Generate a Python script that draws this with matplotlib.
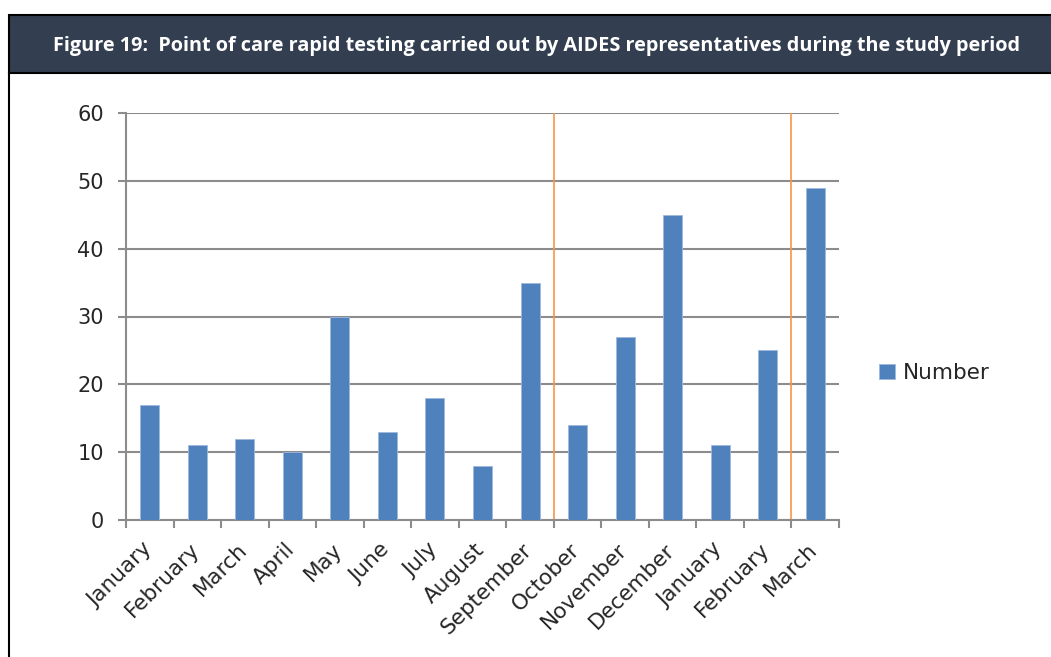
import matplotlib
matplotlib.use("Agg")
import matplotlib.pyplot as plt
from matplotlib.patches import Rectangle
from matplotlib.lines import Line2D
import numpy as np

# ---- data ----
months = ["January", "February", "March", "April", "May", "June", "July",
          "August", "September", "October", "November", "December",
          "January", "February", "March"]
counts = [17, 11, 12, 10, 30, 13, 18, 8, 35, 14, 27, 45, 11, 25, 49]
period_breaks = [9, 14]   # vertical markers between categories
series_name = "Number"
title = ("Figure 19:  Point of care rapid testing carried out by AIDES "
         "representatives during the study period")

# ---- style ----
BAR = "#4F81BD"
GRID = "#8C8C8C"
ORANGE = "#F79646"
HEADER = "#333F50"
TXT = "#262626"

W, H = 1051, 657
fig = plt.figure(figsize=(W / 100, H / 100), dpi=100)

def fx(px):
    return px / W

def fy(py):
    return 1 - py / H

# header bar and framing box
fig.patches.append(Rectangle((fx(9), fy(73)), 1.0, fy(15) - fy(73),
                             transform=fig.transFigure, facecolor=HEADER,
                             edgecolor="black", lw=1.5, zorder=0))
fig.lines.append(Line2D([fx(9), fx(9)], [fy(73), 0], transform=fig.transFigure,
                        color="black", lw=1.5))
fig.text(fx(537), fy(46), title, color="white", fontweight="bold",
         fontsize=14.3, family="Open Sans", ha="center", va="center")

# plot area
ax = fig.add_axes([fx(126), fy(520), fx(839) - fx(126), fy(113) - fy(520)])
x = np.arange(len(months))
bars = ax.bar(x, counts, width=0.4, color=BAR, edgecolor="#9DB9DC",
              linewidth=0.6, label=series_name, zorder=3)

ax.set_xlim(-0.5, len(months) - 0.5)
ax.set_ylim(0, 60)
ax.set_yticks(range(0, 61, 10))
ax.yaxis.grid(True, color=GRID, lw=1.5, zorder=0)

for b in period_breaks:
    ax.axvline(b - 0.5, color=ORANGE, lw=1.2, zorder=2)

for side in ["top", "right"]:
    ax.spines[side].set_visible(False)
for side in ["left", "bottom"]:
    ax.spines[side].set_color(GRID)
    ax.spines[side].set_linewidth(1.5)

ax.set_xticks(np.arange(len(months) + 1) - 0.5)
ax.set_xticklabels([])
ax.set_xticks(x - 0.17, minor=True)
ax.set_xticklabels(months, minor=True, rotation=45, ha="right", va="top",
                   rotation_mode="anchor", fontsize=15.5, color=TXT,
                   family="DejaVu Sans")
ax.tick_params(axis="x", which="major", length=6, width=1.5, color=GRID)
ax.tick_params(axis="x", which="minor", length=0, pad=14)
ax.tick_params(axis="y", length=6, width=1.5, color=GRID, pad=10,
               labelsize=15, labelcolor=TXT)

leg = ax.legend(loc="center left", bbox_to_anchor=(fx(879), fy(373)),
                bbox_transform=fig.transFigure, frameon=False,
                handlelength=0.75, handleheight=0.75, handletextpad=0.35,
                borderpad=0, borderaxespad=0,
                prop={"family": "DejaVu Sans", "size": 15.5})
for t in leg.get_texts():
    t.set_color(TXT)

fig.savefig("out.png", dpi=100)
